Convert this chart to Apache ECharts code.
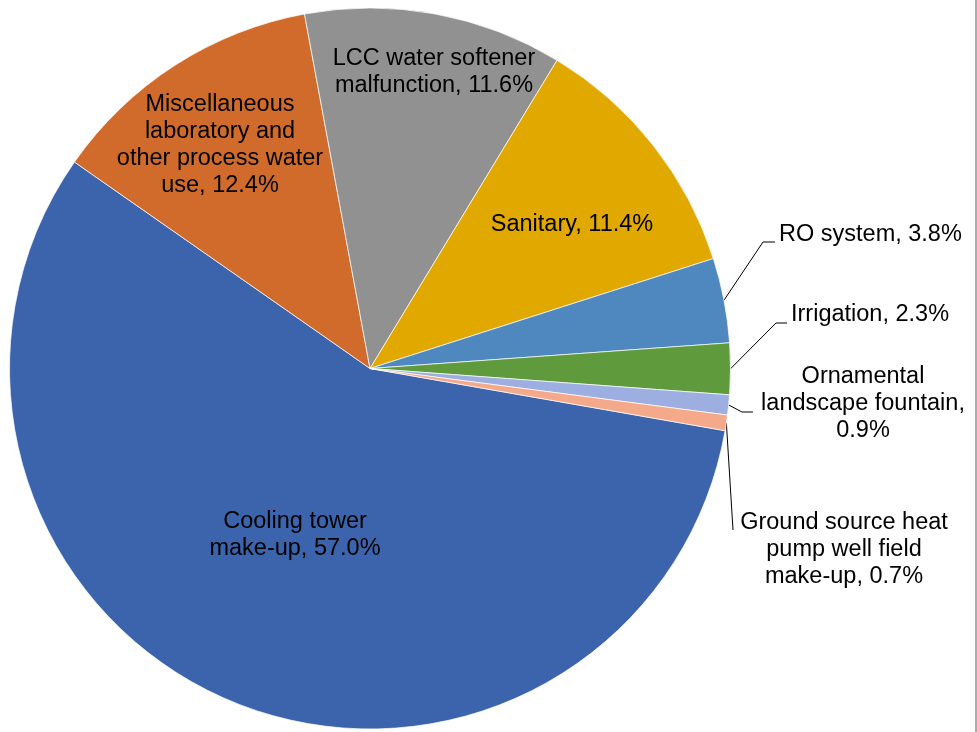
<!DOCTYPE html>
<html><head><meta charset="utf-8">
<script src="https://cdn.jsdelivr.net/npm/echarts@6/dist/echarts.min.js"></script>
<style>html,body{margin:0;padding:0;background:#fff}#c{width:977px;height:732px}</style>
</head><body><div id="c"></div>
<script>
// ---- data ----
const categories = [
  'Cooling tower make-up',
  'Miscellaneous laboratory and other process water use',
  'LCC water softener malfunction',
  'Sanitary',
  'RO system',
  'Irrigation',
  'Ornamental landscape fountain',
  'Ground source heat pump well field make-up'
];
const shares = [57.0, 12.4, 11.6, 11.4, 3.8, 2.3, 0.9, 0.7];
const labelTemplates = [
  'Cooling tower\nmake-up, {v}',
  'Miscellaneous\nlaboratory and\nother process water\nuse, {v}',
  'LCC water softener\nmalfunction, {v}',
  'Sanitary, {v}',
  'RO system, {v}',
  'Irrigation, {v}',
  'Ornamental\nlandscape fountain,\n{v}',
  'Ground source heat\npump well field\nmake-up, {v}'
];
const colors = ['#3C64AC', '#D06B2C', '#919191', '#E1A800', '#4E88BE', '#5F9A3D', '#9DAFE0', '#F3A98A'];

// ---- layout (label placement only) ----
const labelPlace = [
  {x: 295, y: 535, align: 'center'},
  {x: 220, y: 145, align: 'center'},
  {x: 434, y: 72, align: 'center'},
  {x: 572, y: 225, align: 'center'},
  {x: 779, y: 235, align: 'left', line: [[763, 242], [775, 242]]},
  {x: 791, y: 315, align: 'left', line: [[776, 323], [787, 323]]},
  {x: 863, y: 404, align: 'center', line: [[742, 412], [753, 412]]},
  {x: 844, y: 550, align: 'center', line: [[733, 530], [733, 530]]}
];

const chart = echarts.init(document.getElementById('c'), null, {renderer: 'canvas'});
const data = categories.map((name, i) => {
  const outside = !!labelPlace[i].line;
  return {
    name: name,
    value: shares[i],
    itemStyle: {color: colors[i]},
    label: {position: outside ? 'outside' : 'inside', align: labelPlace[i].align === 'left' ? 'left' : 'center'},
    labelLine: {show: outside}
  };
});

chart.setOption({
  animation: false,
  backgroundColor: '#ffffff',
  graphic: [{
    type: 'rect', shape: {x: 975, y: 0, width: 2, height: 732},
    style: {fill: '#ABABAB'}, silent: true
  }],
  series: [{
    type: 'pie',
    center: [370, 368.5],
    radius: 360.5,
    startAngle: -9.94,
    clockwise: true,
    avoidLabelOverlap: false,
    data: data,
    itemStyle: {borderColor: '#ffffff', borderWidth: 0.7},
    label: {
      show: true,
      color: '#000000',
      fontFamily: '"Liberation Sans", Arial, sans-serif',
      fontSize: 23.5,
      lineHeight: 27,
      formatter: p => labelTemplates[p.dataIndex].replace('{v}', shares[p.dataIndex].toFixed(1) + '%')
    },
    labelLine: {
      show: true,
      lineStyle: {color: '#000000', width: 1},
      length: 20, length2: 10, smooth: false
    },
    labelLayout: function (params) {
      const pl = labelPlace[params.dataIndex];
      const out = {x: pl.x, y: pl.y, align: pl.align, verticalAlign: 'middle'};
      if (pl.line && params.labelLinePoints) {
        const s = params.labelLinePoints[0];
        out.labelLinePoints = [[s[0], s[1]], pl.line[0], pl.line[1]];
      }
      return out;
    }
  }]
});
</script>
</body></html>
